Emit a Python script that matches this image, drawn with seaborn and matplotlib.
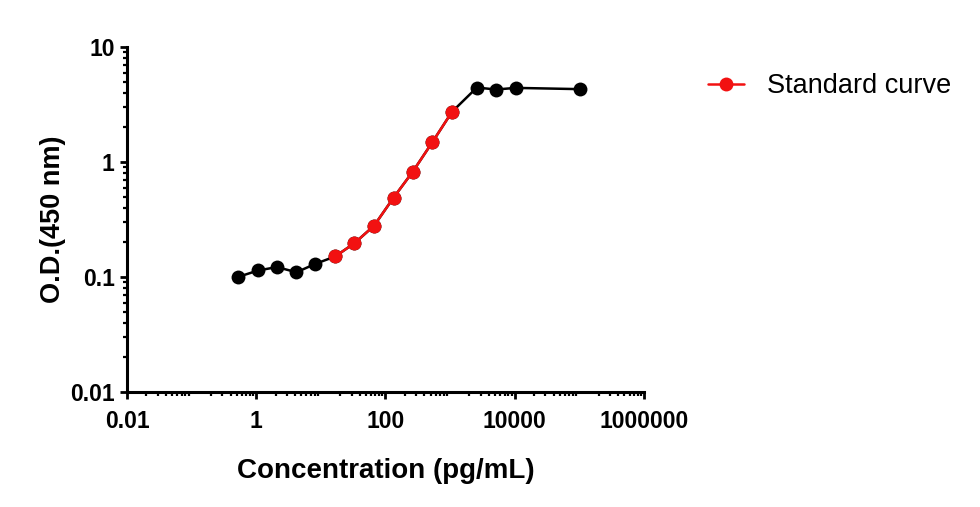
import numpy as np
import pandas as pd
import matplotlib
matplotlib.use("Agg")
import matplotlib.pyplot as plt
from matplotlib.ticker import LogLocator, FixedLocator, FixedFormatter, NullFormatter
import seaborn as sns

# concentration (pg/mL) and O.D.
conc = [0.52, 1.07, 2.09, 4.2, 8.2, 16.7, 33.2, 66.6, 134, 265, 534, 1072, 2600, 5170, 10400, 104500]
od = [0.100, 0.114, 0.122, 0.110, 0.130, 0.151, 0.197, 0.279, 0.491, 0.824, 1.49, 2.73, 4.44, 4.27, 4.41, 4.30]
red_idx = list(range(5, 12))

x_ticks = [0.01, 1, 100, 10000, 1000000]
x_labels = ["0.01", "1", "100", "10000", "1000000"]
y_ticks = [0.01, 0.1, 1, 10]
y_labels = ["0.01", "0.1", "1", "10"]

df = pd.DataFrame({"conc": conc, "od": od})
df_red = df.iloc[red_idx]

sns.set_style("ticks")
plt.rcParams['font.family'] = ['Liberation Sans', 'DejaVu Sans']
plt.rcParams['text.color'] = 'black'
plt.rcParams['axes.labelcolor'] = 'black'

fig = plt.figure(figsize=(9.8, 5.07), dpi=100)
ax = fig.add_axes([0.1296, 0.2268, 0.5274, 0.6805])

sns.lineplot(data=df, x="conc", y="od", ax=ax, color="black", marker="o",
             markersize=10, markeredgewidth=0, linewidth=1.8, sort=False)
sns.lineplot(data=df_red, x="conc", y="od", ax=ax, color="#f21111", marker="o",
             markersize=10, markeredgewidth=0, linewidth=1.8, sort=False,
             label="Standard curve")

ax.set_xscale("log")
ax.set_yscale("log")
ax.set_xlim(0.01, 1000000)
ax.set_ylim(0.01, 10)

ax.xaxis.set_major_locator(FixedLocator(x_ticks))
ax.xaxis.set_major_formatter(FixedFormatter(x_labels))
ax.yaxis.set_major_locator(FixedLocator(y_ticks))
ax.yaxis.set_major_formatter(FixedFormatter(y_labels))
ax.xaxis.set_minor_locator(LogLocator(base=10, subs=np.arange(2, 10), numticks=20))
ax.yaxis.set_minor_locator(LogLocator(base=10, subs=np.arange(2, 10), numticks=20))
ax.xaxis.set_minor_formatter(NullFormatter())
ax.yaxis.set_minor_formatter(NullFormatter())

for s in ["top", "right"]:
    ax.spines[s].set_visible(False)
for s in ["left", "bottom"]:
    ax.spines[s].set_linewidth(2.2)
    ax.spines[s].set_color("black")

ax.tick_params(which="major", direction="out", length=5, width=2, colors="black",
               labelsize=16.5, pad=4)
ax.tick_params(axis="x", which="major", pad=8)
ax.tick_params(which="minor", direction="out", length=3, width=1.6, colors="black")
for lbl in ax.get_xticklabels() + ax.get_yticklabels():
    lbl.set_fontweight("bold")

ax.set_xlabel("Concentration (pg/mL)", fontsize=20, fontweight="bold", labelpad=18)
ax.set_ylabel("O.D.(450 nm)", fontsize=19.5, fontweight="bold", labelpad=3)

leg = ax.legend(loc="upper left", bbox_to_anchor=(0.722, 0.856), bbox_transform=fig.transFigure,
                frameon=False, fontsize=19.5, handlelength=1.35, handletextpad=0.85,
                borderaxespad=0, borderpad=0)

fig.savefig("out.png", dpi=100)
